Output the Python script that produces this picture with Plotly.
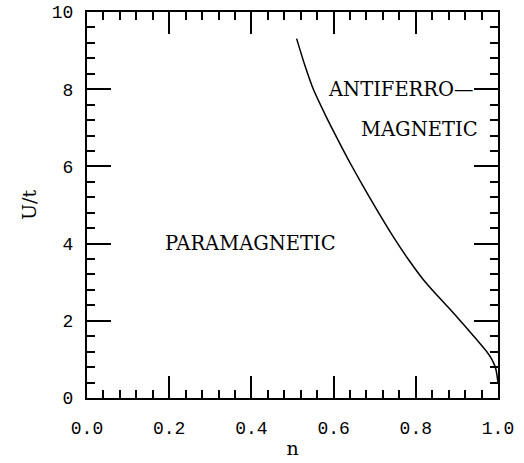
import plotly.graph_objects as go

# Phase boundary data (n, U/t)
n_vals = [0.510, 0.530, 0.551, 0.580, 0.610, 0.636, 0.670, 0.705, 0.745, 0.780,
          0.818, 0.850, 0.879, 0.920, 0.950, 0.972, 0.986, 0.995, 1.000]
u_vals = [9.31, 8.62, 7.99, 7.33, 6.70, 6.17, 5.52, 4.88, 4.18, 3.62,
          3.07, 2.68, 2.35, 1.86, 1.49, 1.21, 0.98, 0.74, 0.40]

x_ticks = [0.0, 0.2, 0.4, 0.6, 0.8, 1.0]
x_tick_labels = ["0.0", "0.2", "0.4", "0.6", "0.8", "1.0"]
y_ticks = [0, 2, 4, 6, 8, 10]
y_tick_labels = ["0", "2", "4", "6", "8", "10"]

region_labels = ["PARAMAGNETIC", "ANTIFERRO—", "MAGNETIC"]
region_x = [0.185, 0.582, 0.957]
region_y = [4.0, 8.0, 6.95]
region_anchor = ["left", "left", "right"]

SERIF = "DejaVu Serif, Liberation Serif, serif"

fig = go.Figure()
fig.add_trace(go.Scatter(x=n_vals, y=u_vals, mode="lines",
                         line=dict(color="black", width=1.5, shape="spline", smoothing=0.6),
                         showlegend=False))

tickfont = dict(family="Liberation Mono", size=18, color="black")
xaxis_common = dict(range=[0, 1], tickvals=x_ticks, ticks="inside", ticklen=22,
                    tickwidth=1.5, tickcolor="black", showgrid=False, zeroline=False,
                    showline=True, linecolor="black", linewidth=2, automargin=False,
                    minor=dict(dtick=0.04, ticks="inside", ticklen=8, tickwidth=1.5,
                               tickcolor="black", showgrid=False))
yaxis_common = dict(range=[0, 10], tickvals=y_ticks, ticks="inside", ticklen=24,
                    tickwidth=1.5, tickcolor="black", showgrid=False, zeroline=False,
                    showline=True, linecolor="black", linewidth=2, automargin=False,
                    minor=dict(dtick=0.4, ticks="inside", ticklen=8, tickwidth=1.5,
                               tickcolor="black", showgrid=False))

fig.update_layout(
    width=524, height=463,
    margin=dict(l=87, r=26, t=12, b=65),
    paper_bgcolor="white", plot_bgcolor="white",
    xaxis=dict(**xaxis_common, ticktext=x_tick_labels, tickfont=tickfont,
               ticklabelstandoff=12,
               title=dict(text="n", font=dict(family=SERIF, size=19, color="black"),
                          standoff=4)),
    yaxis=dict(**yaxis_common, ticktext=y_tick_labels, tickfont=tickfont,
               ticklabelstandoff=8,
               title=dict(text="U/t", font=dict(family=SERIF, size=19, color="black"),
                          standoff=10)),
    xaxis2=dict(**xaxis_common, overlaying="x", side="top", anchor="y",
                showticklabels=False),
    yaxis2=dict(**yaxis_common, overlaying="y", side="right", anchor="x",
                showticklabels=False),
)
fig.add_trace(go.Scatter(x=[None], y=[None], xaxis="x2", yaxis="y2",
                         showlegend=False, hoverinfo="skip"))

for txt, xx, yy, anc in zip(region_labels, region_x, region_y, region_anchor):
    fig.add_annotation(x=xx, y=yy, text=txt, showarrow=False, xanchor=anc,
                       yanchor="middle",
                       font=dict(family=SERIF, size=19.5, color="black"))

fig.write_html("out.html")
